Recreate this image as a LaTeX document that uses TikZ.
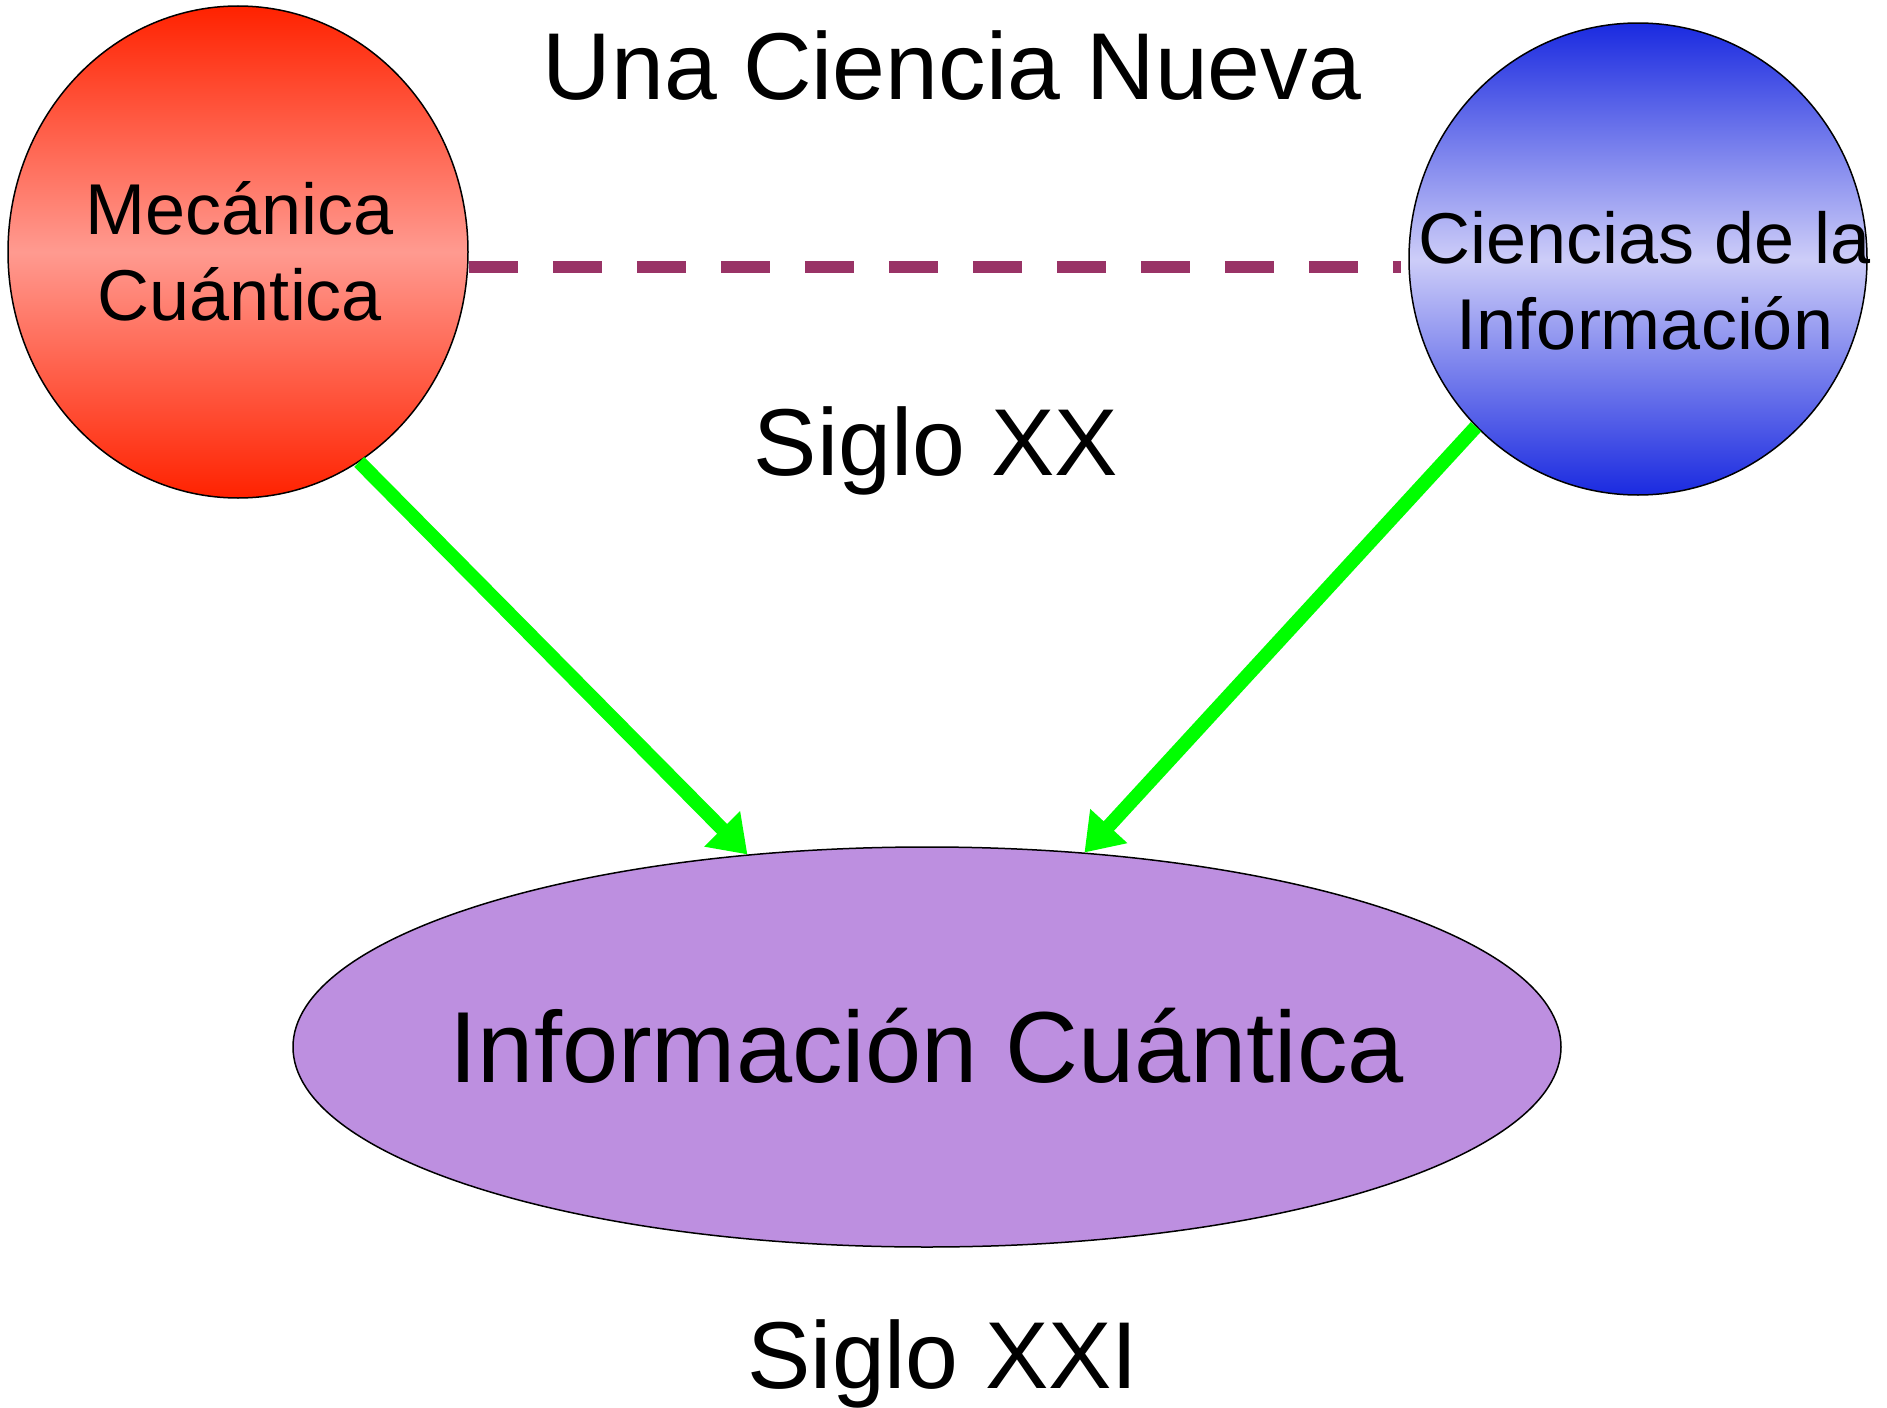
\documentclass[tikz,border=0pt]{standalone}
\usepackage{fontspec}
\setmainfont{Liberation Sans}
\usetikzlibrary{arrows.meta,shapes.geometric}
\definecolor{quantred}{RGB}{255,34,0}
\definecolor{quantpink}{RGB}{255,154,144}
\definecolor{infoblue}{RGB}{26,42,224}
\definecolor{infopale}{RGB}{205,205,248}
\definecolor{lilac}{RGB}{189,143,224}
\definecolor{linkplum}{RGB}{153,51,102}
\definecolor{flowgreen}{RGB}{0,255,0}

\begin{document}
\begin{tikzpicture}[
  x=0.5pt,y=-0.5pt,
  bubble/.style={ellipse,draw=black,line width=0.75pt,inner sep=0pt},
  redbubble/.style={bubble,minimum width=230pt,minimum height=246pt,top color=quantred,bottom color=quantred,middle color=quantpink},
  bluebubble/.style={bubble,minimum width=229pt,minimum height=236pt,top color=infoblue,bottom color=infoblue,middle color=infopale},
  goalbubble/.style={bubble,fill=lilac,minimum width=634pt,minimum height=200pt},
  bubbletext/.style={align=center,font=\fontsize{36pt}{43pt}\selectfont},
  caption/.style={anchor=base,font=\fontsize{47.5pt}{56pt}\selectfont},
  flow/.style={-{Triangle[length=18pt,width=24pt]},line width=7pt,flowgreen},
  link/.style={line width=6pt,linkplum,dash pattern=on 24.5pt off 17.5pt}
]
  \useasboundingbox (0,0) rectangle (1887,1408);

  % the two sources
  \node[redbubble] (mq) at (238,252) {};
  \node[bluebubble] (ci) at (1638,259) {};
  \node[bubbletext] (mqtext) at (240,251) {Mecánica\\Cuántica};
  \node[bubbletext] (citext) at (1645,281) {Ciencias de la\\Información};

  % the result
  \node[goalbubble] (iq) at (927,1047) {};
  \node[caption,font=\fontsize{50.5pt}{60pt}\selectfont] (iqtext) at (927,1082) {Información Cuántica};

  \coordinate (linky) at (0,267);
  \draw[link,shorten >=3.5pt] (mq.east |- linky) -- (ci.west |- linky);
  \draw[flow] (mq.-60) -- (iq.133.5);
  \draw[flow] (ci.226) -- (iq.51.7);

  \node[caption] (title) at (952,99) {Una Ciencia Nueva};
  \node[caption] (old) at (936,475) {Siglo XX};
  \node[caption] (new) at (943,1388) {Siglo XXI};
\end{tikzpicture}
\end{document}
